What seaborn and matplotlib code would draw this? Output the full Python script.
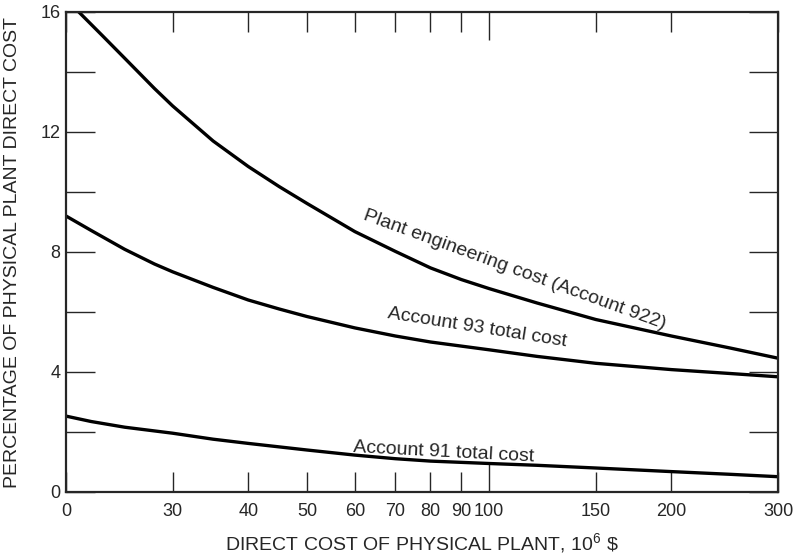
import matplotlib
matplotlib.use("Agg")
import matplotlib.pyplot as plt
import pandas as pd
import seaborn as sns

# ---- data ----
plant_x = [21, 23, 25, 28, 30, 35, 40, 45, 50, 60, 70, 80, 90, 100, 120, 150, 200, 250, 300]
plant_y = [16.0, 15.2, 14.46, 13.45, 12.87, 11.7, 10.85, 10.18, 9.62, 8.68, 8.02, 7.47, 7.08, 6.78, 6.3, 5.75, 5.2, 4.8, 4.46]
acc93_x = [20, 22, 25, 28, 30, 35, 40, 45, 50, 60, 70, 80, 100, 120, 150, 200, 250, 300]
acc93_y = [9.2, 8.72, 8.09, 7.6, 7.34, 6.82, 6.4, 6.1, 5.85, 5.47, 5.2, 5.0, 4.74, 4.52, 4.29, 4.08, 3.95, 3.84]
acc91_x = [20, 22, 25, 30, 35, 40, 50, 60, 70, 80, 100, 120, 150, 200, 250, 300]
acc91_y = [2.53, 2.35, 2.16, 1.96, 1.76, 1.62, 1.40, 1.23, 1.11, 1.03, 0.95, 0.89, 0.80, 0.68, 0.59, 0.51]

series_names = ["Plant engineering cost (Account 922)", "Account 93 total cost", "Account 91 total cost"]

xtick_pos = [20, 30, 40, 50, 60, 70, 80, 90, 150, 200, 300]
xtick_lab = ["0", "30", "40", "50", "60", "70", "80", "90", "150", "200", "300"]
xtick_major_pos = [100]
xtick_major_lab = ["100"]
ytick_major = [0, 4, 8, 12, 16]
ytick_minor = [2, 6, 10, 14]

xlabel = "DIRECT COST OF PHYSICAL PLANT, 10$^{6}$ \\$"
ylabel = "PERCENTAGE OF PHYSICAL PLANT DIRECT COST"

df = pd.concat([
    pd.DataFrame({"x": plant_x, "y": plant_y, "s": series_names[0]}),
    pd.DataFrame({"x": acc93_x, "y": acc93_y, "s": series_names[1]}),
    pd.DataFrame({"x": acc91_x, "y": acc91_y, "s": series_names[2]}),
])

sns.set_style("ticks")
plt.rcParams["font.family"] = ["Liberation Sans", "DejaVu Sans"]
plt.rcParams["mathtext.fontset"] = "custom"
plt.rcParams["mathtext.rm"] = "Liberation Sans"

fig = plt.figure(figsize=(7.95, 5.55), dpi=100)
ax = fig.add_axes([66 / 795, 63 / 555, (778 - 66) / 795, (492 - 12) / 555])

sns.lineplot(data=df, x="x", y="y", hue="s", palette=["black"] * 3,
             estimator=None, legend=False, linewidth=2.4, ax=ax)
for ln in ax.lines:
    ln.set_solid_joinstyle("round")
    ln.set_solid_capstyle("round")

ax.set_xscale("log")
ax.set_xlim(20, 300)
ax.set_ylim(0, 16)

ax.set_xticks(xtick_major_pos, labels=xtick_major_lab)
ax.set_xticks(xtick_pos, labels=xtick_lab, minor=True)
ax.set_yticks(ytick_major)
ax.set_yticks(ytick_minor, minor=True)

ax.tick_params(axis="x", which="major", direction="in", length=20, width=1.0,
               top=True, bottom=True, labelsize=13, pad=8)
ax.tick_params(axis="x", which="minor", direction="in", length=14.5, width=1.0,
               top=True, bottom=True, labelsize=13, pad=8)
ax.tick_params(axis="y", which="both", direction="in", length=21, width=1.0,
               left=True, right=True, labelsize=13, pad=4)
ax.tick_params(axis="y", which="minor", labelleft=False)

for sp in ax.spines.values():
    sp.set_linewidth(1.6)
    sp.set_visible(True)

ax.set_xlabel(xlabel, fontsize=14, labelpad=8)
ax.set_ylabel(ylabel, fontsize=14, labelpad=14)

ax.text(110, 7.4, series_names[0], fontsize=14, rotation=-20,
        ha="center", va="center", rotation_mode="anchor")
ax.text(95.4, 5.47, series_names[1], fontsize=14, rotation=-9,
        ha="center", va="center", rotation_mode="anchor")
ax.text(84.2, 1.33, series_names[2], fontsize=14, rotation=-3,
        ha="center", va="center", rotation_mode="anchor")

fig.savefig("out.png", dpi=100)
